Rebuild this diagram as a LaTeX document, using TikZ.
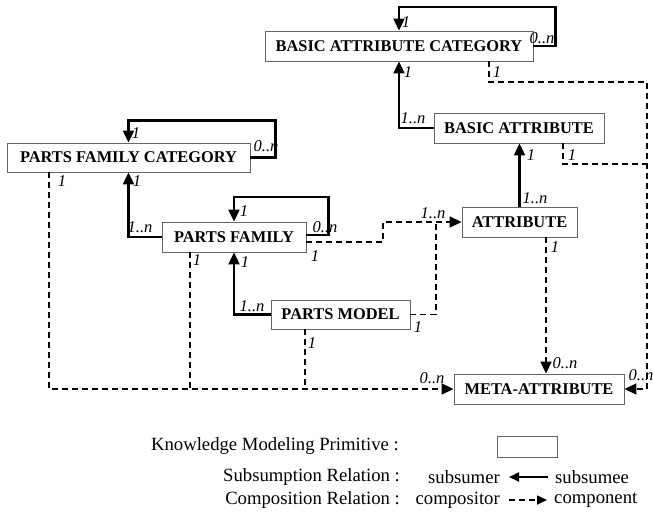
\documentclass[tikz,border=0pt]{standalone}
\usepackage{fontspec}
\setmainfont{Liberation Serif}
\usetikzlibrary{arrows.meta}
\begin{document}
\begin{tikzpicture}[x=1pt,y=-1pt,
  prim/.style={draw=black!60,line width=0.9pt,fill=white,inner sep=0pt,
    font=\fontsize{16.4}{19}\selectfont\bfseries},
  sub/.style={line width=2.2pt,-{Triangle[length=12pt,width=11pt]}},
  subl/.style={line width=2.2pt},
  comp/.style={line width=1.7pt,dash pattern=on 6pt off 4pt,-{Triangle[length=12pt,width=11pt]}},
  compl/.style={line width=1.7pt,dash pattern=on 6pt off 4pt},
  mult/.style={font=\fontsize{16.5}{18}\selectfont\itshape,inner sep=0pt},
  leg/.style={font=\fontsize{18.7}{21}\selectfont,inner sep=0pt}]
\useasboundingbox (0,0) rectangle (653,515);
% boxes
\node[prim,minimum width=268pt,minimum height=30pt] (bac) at (399,46) {BASIC ATTRIBUTE CATEGORY};
\node[prim,minimum width=170pt,minimum height=30pt] (ba) at (519,128) {BASIC ATTRIBUTE};
\node[prim,minimum width=115pt,minimum height=30pt] (attr) at (519.5,222) {ATTRIBUTE};
\node[prim,minimum width=170pt,minimum height=30pt] (meta) at (539,389) {META-ATTRIBUTE};
\node[prim,minimum width=243pt,minimum height=29pt] (pfc) at (128.5,157.5) {PARTS FAMILY CATEGORY};
\node[prim,minimum width=144pt,minimum height=30pt] (pf) at (234,237) {PARTS FAMILY};
\node[prim,minimum width=139pt,minimum height=29pt] (pm) at (340.5,314.5) {PARTS MODEL};
% subsumption
\draw[sub] (bac.east) -- ++(22,0) -- ++(0,-39) -| (bac.north);
\draw[sub] (ba.west) -| (bac.south);
\draw[sub] (attr.north) -- (attr.north |- ba.south);
\draw[sub] (pfc.east) -- ++(25,0) -- ++(0,-37) -| (pfc.north);
\draw[sub] (pf.west) -| (pfc.south);
\draw[sub] ([yshift=2pt]pf.east) -- ++(22,0) -- ++(0,-38) -| (pf.north);
\draw[sub] (pm.west) -| (pf.south);
% composition
\coordinate (j1) at (383,242);
\draw[comp] ([yshift=-5pt]pf.east) -- (j1) |- (attr.west);
\coordinate (j2) at (436,222);
\draw[compl] (pm.east) -| (j2);
\coordinate (pfcb) at (49,172);
\draw[comp] (pfcb) |- (meta.west);
\coordinate (pfb) at (190,252);
\coordinate (pfbe) at (190,389);
\draw[compl] (pfb) -- (pfbe);
\coordinate (pmb) at (305,329);
\coordinate (pmbe) at (305,389);
\draw[compl] (pmb) -- (pmbe);
\coordinate (attrb) at (546,237);
\draw[comp] (attrb) -- (attrb |- meta.north);
\coordinate (bacb) at (489,61);
\coordinate (rc) at (647,82);
\draw[comp] (bacb) |- (rc) |- (meta.east);
\coordinate (bab) at (563,143);
\coordinate (rc2) at (647,164);
\draw[compl] (bab) |- (rc2);
% multiplicities
\node[mult] (m1) at (406,22) {1};
\node[mult] (m2) at (542,38) {0..n};
\node[mult] (m3) at (408,72) {1};
\node[mult] (m4) at (497,72) {1};
\node[mult] (m5) at (413,118) {1..n};
\node[mult] (m6) at (572,155) {1};
\node[mult] (m7) at (531,155) {1};
\node[mult] (m8) at (535,198) {1..n};
\node[mult] (m9) at (433,213) {1..n};
\node[mult] (m10) at (555,247) {1};
\node[mult] (m11) at (565,363) {0..n};
\node[mult] (m12) at (641,375) {0..n};
\node[mult] (m13) at (432,378) {0..n};
\node[mult] (m14) at (136,133) {1};
\node[mult] (m15) at (266,146) {0..n};
\node[mult] (m16) at (62,181) {1};
\node[mult] (m17) at (137,181) {1};
\node[mult] (m18) at (140,227) {1..n};
\node[mult] (m19) at (244,211) {1};
\node[mult] (m20) at (325,227) {0..n};
\node[mult] (m21) at (315,256) {1};
\node[mult] (m22) at (245,262) {1};
\node[mult] (m23) at (197,260) {1};
\node[mult] (m24) at (252,306) {1..n};
\node[mult] (m25) at (418,327) {1};
\node[mult] (m26) at (312,343) {1};
% legend
\node[leg,anchor=east] (lk) at (399,446) {Knowledge Modeling Primitive :};
\node[draw=black!60,line width=0.9pt,minimum width=60pt,minimum height=21pt,inner sep=0pt] (lbox) at (527,446.5) {};
\node[leg,anchor=east] (ls) at (400,477) {Subsumption Relation :};
\node[leg,anchor=east] (lc) at (400,500) {Composition Relation :};
\node[leg,anchor=east] (suber) at (500,477) {subsumer};
\node[leg,anchor=west] (subee) at (555,477) {subsumee};
\node[leg,anchor=east] (cpr) at (500,500) {compositor};
\node[leg,anchor=west] (cpn) at (554,500) {component};
\draw[line width=1.8pt,-{Triangle[length=10pt,width=9pt]}] ([xshift=-7pt]subee.west) -- ([xshift=9pt]suber.east);
\draw[line width=1.6pt,dash pattern=on 6pt off 4pt,-{Triangle[length=10pt,width=9pt]}] ([xshift=9pt]cpr.east) -- ([xshift=-7pt]cpn.west);
\end{tikzpicture}
\end{document}
